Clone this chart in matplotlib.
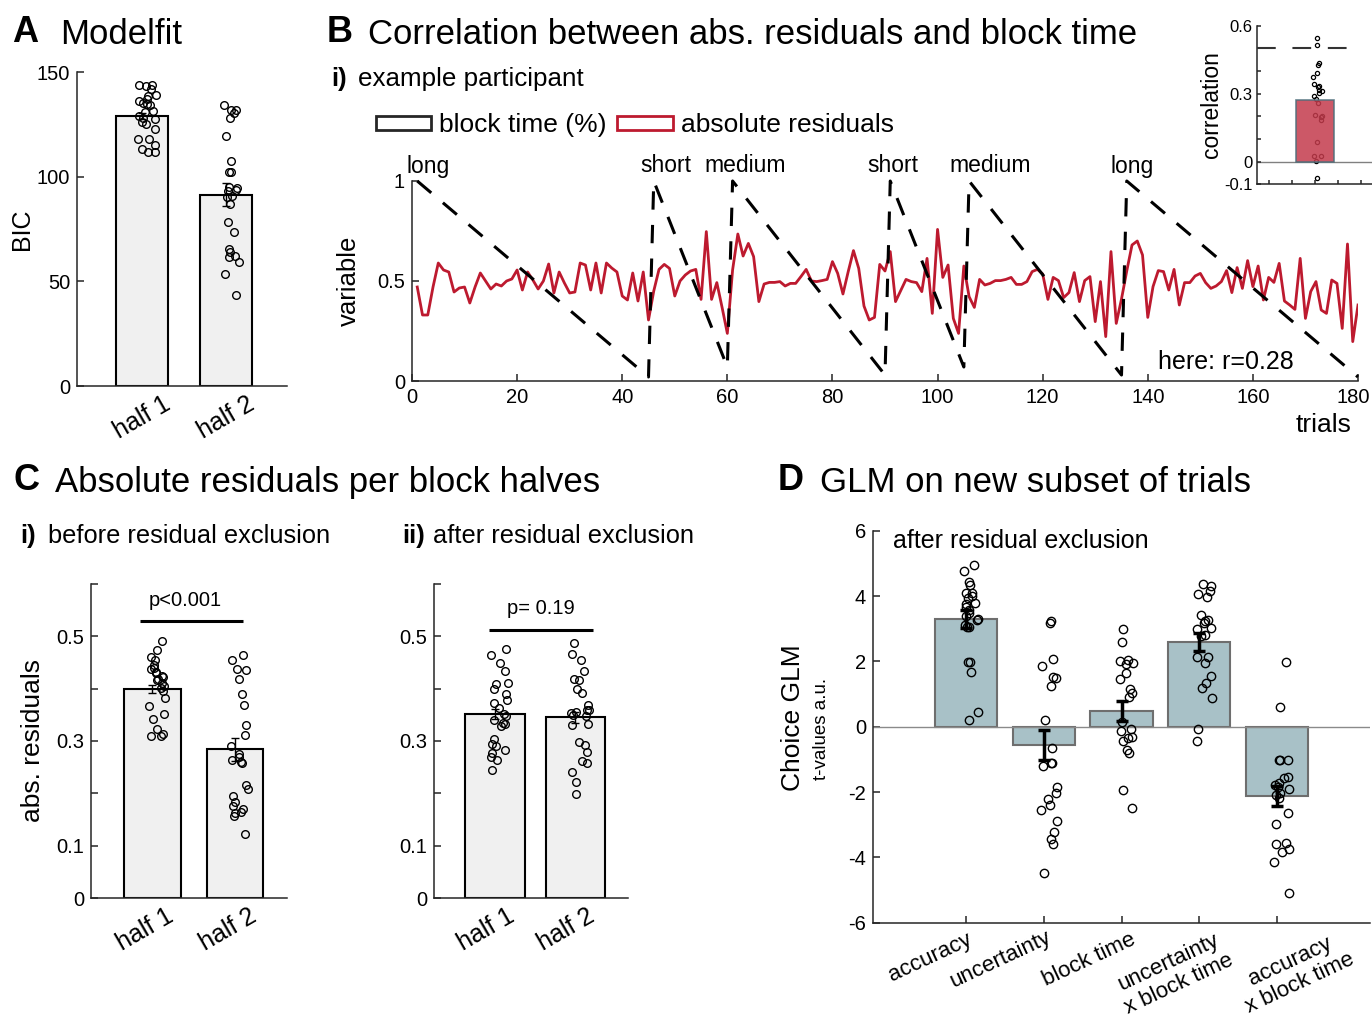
import numpy as np
import matplotlib
matplotlib.use("Agg")
import matplotlib.pyplot as plt
from matplotlib.patches import Patch
from matplotlib.transforms import ScaledTranslation, offset_copy

plt.rcParams['font.family'] = ['Liberation Sans', 'DejaVu Sans']
plt.rcParams['axes.unicode_minus'] = False

# ---- data ----
# A: BIC per block half
bic_mean = [129.1, 91.4]
bic_sem = [1.5, 5.5]
bic_half1 = [144, 144, 143.5, 142, 139, 138.5, 137, 136, 135, 134.5, 134, 131.5, 131,
             129, 128, 127.5, 126, 125, 123, 118, 118, 115, 113, 112, 112]
bic_half2 = [134, 132, 132, 130.5, 128, 119.5, 107.5, 102, 102, 95, 94.5, 93.5, 93,
             91, 90.5, 87, 78.5, 73.5, 65.5, 64, 62, 61.5, 59, 53.5, 43.5]

# B: example participant
abs_resid = [
    0.47, 0.33, 0.33, 0.47, 0.59, 0.555, 0.545, 0.445, 0.465, 0.47,
    0.39, 0.47, 0.54, 0.50, 0.46, 0.485, 0.475, 0.50, 0.51, 0.555,
    0.455, 0.545, 0.505, 0.46, 0.50, 0.585, 0.44, 0.545, 0.49, 0.44,
    0.445, 0.59, 0.58, 0.455, 0.59, 0.44, 0.59, 0.565, 0.545, 0.425,
    0.405, 0.54, 0.40, 0.545, 0.305, 0.45, 0.558, 0.583, 0.563, 0.425,
    0.50, 0.53, 0.55, 0.558, 0.408, 0.747, 0.408, 0.492, 0.368, 0.238,
    0.555, 0.735, 0.625, 0.688, 0.622, 0.397, 0.485, 0.493, 0.493, 0.497,
    0.475, 0.488, 0.488, 0.522, 0.558, 0.50, 0.497, 0.502, 0.508, 0.597,
    0.538, 0.435, 0.547, 0.652, 0.563, 0.375, 0.305, 0.318, 0.583, 0.55,
    0.647, 0.397, 0.452, 0.508, 0.497, 0.492, 0.447, 0.613, 0.338, 0.758,
    0.518, 0.58, 0.313, 0.238, 0.575, 0.422, 0.368, 0.508, 0.48, 0.488,
    0.502, 0.502, 0.508, 0.518, 0.483, 0.483, 0.497, 0.547, 0.558, 0.535,
    0.408, 0.518, 0.502, 0.417, 0.442, 0.542, 0.397, 0.502, 0.522, 0.297,
    0.497, 0.222, 0.647, 0.288, 0.41, 0.55, 0.68, 0.70, 0.63, 0.318,
    0.472, 0.552, 0.547, 0.455, 0.558, 0.38, 0.492, 0.492, 0.525, 0.538,
    0.492, 0.463, 0.475, 0.497, 0.552, 0.442, 0.567, 0.463, 0.602, 0.472,
    0.575, 0.405, 0.518, 0.493, 0.588, 0.40, 0.38, 0.358, 0.613, 0.313,
    0.447, 0.497, 0.355, 0.338, 0.505, 0.488, 0.263, 0.685, 0.197, 0.38]
trials = np.arange(1, len(abs_resid) + 1)
bt_trial = [1, 45, 46, 60, 61, 90, 91, 105, 106, 135, 136, 180]
bt_value = [1, 0.02, 1, 0.07, 1, 0.03, 1, 0.07, 1, 0.03, 1, 0.02]
block_names = ['long', 'short', 'medium', 'short', 'medium', 'long']
block_label_x = [-1.1, 43.4, 55.7, 86.7, 102.3, 133.0]

# B inset: correlation across participants
corr_mean = 0.27
corr_vals = [0.546, 0.516, 0.434, 0.427, 0.39, 0.375, 0.343, 0.334, 0.33, 0.316, 0.31,
             0.302, 0.29, 0.275, 0.258, 0.206, 0.2, 0.196, 0.184, 0.086, 0.025, 0.025,
             0.004, -0.072]

# C: abs. residuals per block halves
res_before_mean = [0.399, 0.284]
res_before_sem = [0.008, 0.022]
res_before_h1 = [0.491, 0.474, 0.46, 0.454, 0.446, 0.44, 0.437, 0.432, 0.43, 0.425, 0.423,
                 0.418, 0.416, 0.41, 0.405, 0.402, 0.395, 0.382, 0.366, 0.352, 0.342,
                 0.323, 0.314, 0.31, 0.309]
res_before_h2 = [0.465, 0.455, 0.437, 0.435, 0.418, 0.39, 0.368, 0.33, 0.312, 0.29, 0.276,
                 0.27, 0.263, 0.26, 0.258, 0.216, 0.208, 0.195, 0.184, 0.171, 0.175,
                 0.162, 0.165, 0.157, 0.122]
res_after_mean = [0.352, 0.345]
res_after_sem = [0.01, 0.01]
res_after_h1 = [0.475, 0.465, 0.45, 0.434, 0.411, 0.408, 0.4, 0.39, 0.379, 0.373, 0.363,
                0.352, 0.347, 0.341, 0.335, 0.332, 0.328, 0.304, 0.294, 0.29, 0.282,
                0.277, 0.269, 0.263, 0.244]
res_after_h2 = [0.487, 0.467, 0.454, 0.433, 0.416, 0.418, 0.4, 0.392, 0.368, 0.359, 0.356,
                0.354, 0.347, 0.333, 0.298, 0.292, 0.279, 0.262, 0.258, 0.241, 0.222,
                0.198, 0.35, 0.36, 0.33]

# D: GLM t-values
glm_names = ['accuracy', 'uncertainty', 'block time', 'uncertainty\nx block time',
             'accuracy\nx block time']
glm_mean = [3.29, -0.56, 0.48, 2.6, -2.12]
glm_sem = [0.27, 0.47, 0.30, 0.28, 0.32]
glm_points = [
    [4.95, 4.78, 4.44, 4.34, 4.1, 4.08, 4.0, 3.93, 3.8, 3.75, 3.67, 3.57, 3.47, 3.39,
     3.3, 3.27, 3.11, 3.05, 3.04, 1.99, 1.98, 1.68, 0.46, 0.2],
    [3.24, 3.18, 2.06, 1.86, 1.51, 1.5, 1.24, 0.2, -0.66, -1.1, -1.12, -1.2, -1.84,
     -2.02, -2.22, -2.4, -2.55, -2.88, -3.21, -3.45, -3.59, -4.47],
    [3.0, 2.6, 2.04, 2.0, 1.96, 1.92, 1.65, 1.45, 1.14, 1.02, 0.92, 0.13, -0.08, -0.14,
     -0.33, -0.35, -0.45, -0.71, -0.8, -1.94, -2.5],
    [4.37, 4.31, 4.16, 4.06, 3.98, 3.42, 3.27, 3.25, 3.16, 3.01, 3.0, 2.81, 2.78, 2.14,
     2.12, 1.94, 1.55, 1.35, 1.17, 0.87, -0.06, -0.45],
    [1.97, 0.61, -1.02, -1.02, -1.02, -1.53, -1.58, -1.73, -1.78, -1.84, -1.9, -2.04,
     -2.1, -2.19, -2.65, -2.98, -3.57, -3.6, -3.75, -3.83, -4.14, -5.1]]

# ---- styling ----
W, H = 1372, 1019
bar_gray = '#f0f0f0'
red = '#bd1a2f'
inset_red = '#c43b4c'
glm_color = '#a8c1c7'
rng = np.random.RandomState(7)

fig = plt.figure(figsize=(W / 100, H / 100), dpi=100)


def ax_at(left, top, right, bottom):
    return fig.add_axes([left / W, 1 - bottom / H, (right - left) / W, (bottom - top) / H])


def ftext(x, y, s, **kw):
    kw.setdefault('va', 'center')
    fig.text(x / W, 1 - y / H, s, **kw)


def shift(artist, dx, dy=0):
    artist.set_transform(artist.get_transform() +
                         ScaledTranslation(dx / 100, dy / 100, fig.dpi_scale_trans))


def style(ax, size=14.5):
    for s in ['top', 'right']:
        ax.spines[s].set_visible(False)
    for s in ['left', 'bottom']:
        ax.spines[s].set_linewidth(1.1)
        ax.spines[s].set_color('#262626')
    ax.tick_params(direction='in', length=5, width=1.1, labelsize=size,
                   color='#262626', pad=5)


def halves(ax, mean, sem, pts, width, label_dx=0):
    xb = np.array([1, 2])
    ax.bar(xb, mean, width=width, color=bar_gray, edgecolor='k', linewidth=1.5, zorder=1)
    ax.errorbar(xb, mean, yerr=sem, fmt='none', ecolor='k', elinewidth=1,
                capsize=3, zorder=2)
    for i, vals in enumerate(pts):
        jit = rng.uniform(-0.05, 0.17, len(vals))
        ax.plot(xb[i] + jit, vals, 'o', ms=5.5, mfc='none', mec='k', mew=1, zorder=3)
    ax.set_xticks(xb)
    ax.set_xticklabels(['half 1', 'half 2'], rotation=30, fontsize=18)
    ax.tick_params(axis='x', length=0, pad=4)
    for lab in ax.get_xticklabels():
        shift(lab, label_dx)


# ---- A ----
axA = ax_at(77, 72, 287, 386)
style(axA)
halves(axA, bic_mean, bic_sem, [bic_half1, bic_half2], 0.63)
axA.set_xlim(0.226, 2.726)
axA.set_ylim(0, 150)
axA.set_yticks([0, 50, 100, 150])
axA.set_ylabel('BIC', fontsize=18, labelpad=2)

# ---- B ----
axB = ax_at(412, 181, 1358, 381)
style(axB)
axB.plot(trials, abs_resid, color=red, lw=2, zorder=2)
axB.plot(bt_trial, bt_value, color='k', lw=2.2, dashes=(6, 5), zorder=3, clip_on=False)
axB.set_xlim(0, 180)
axB.set_ylim(0, 1)
axB.set_xticks(range(0, 181, 20))
axB.set_yticks([0, 0.5, 1])
axB.set_yticklabels(['0', '0.5', '1'])
shift(axB.get_xticklabels()[-1], -5)
axB.set_ylabel('variable', fontsize=18.5, labelpad=12)
for name, x in zip(block_names, block_label_x):
    axB.text(x, 1.075, name, fontsize=16.5, ha='left', va='center', clip_on=False)
axB.text(141.9, 0.095, 'here: r=0.28', fontsize=18, ha='left', va='center')
axB.text(178.8, -0.22, 'trials', fontsize=19, ha='right', va='center', clip_on=False)

handles = [Patch(facecolor='none', edgecolor='#262626', lw=2),
           Patch(facecolor='none', edgecolor=red, lw=2)]
fig.legend(handles, ['block time (%)', 'absolute residuals'], ncol=2, frameon=False,
           loc='center left', bbox_to_anchor=(376 / W, 1 - 125 / H), fontsize=19,
           handlelength=2.1, handleheight=0.45, handletextpad=0.3, columnspacing=0.4,
           borderpad=0, borderaxespad=0)

# inset
axI = ax_at(1257, 25.7, 1373, 184.3)
style(axI, size=12)
axI.axhline(0, color='#808080', lw=1, zorder=1)
jit = rng.uniform(-0.015, 0.06, len(corr_vals))
axI.plot(1 + jit, corr_vals, 'o', ms=3, mfc='none', mec='k', mew=0.9, zorder=2)
axI.bar(1, corr_mean, width=0.33, color=inset_red, alpha=0.85, edgecolor='#4e6e7b',
        lw=1.2, zorder=3)
axI.axhline(0.5, xmax=0.78, color='#333333', lw=1.5, dashes=(9, 8), zorder=4)
axI.set_xlim(0.5, 1.5)
axI.set_ylim(-0.1, 0.6)
axI.set_xticks([0.6, 0.8, 1.0, 1.2, 1.4])
axI.set_xticklabels([])
axI.set_yticks(np.round(np.arange(-0.1, 0.61, 0.1), 1))
axI.set_yticklabels(['-0.1', '0', '', '', '0.3', '', '', '0.6'])
axI.tick_params(length=3, pad=3)
axI.set_ylabel('correlation', fontsize=16.5, labelpad=1)

# ---- C ----
ctick = np.round(np.arange(0, 0.61, 0.1), 1)
clab = ['0', '0.1', '', '0.3', '', '0.5', '']

axC1 = ax_at(91, 584, 287, 898)
style(axC1)
halves(axC1, res_before_mean, res_before_sem, [res_before_h1, res_before_h2], 0.68, -7)
axC1.set_xlim(0.255, 2.63)
axC1.set_ylim(0, 0.6)
axC1.set_yticks(ctick)
axC1.set_yticklabels(clab)
axC1.set_ylabel('abs. residuals', fontsize=19, labelpad=8)
axC1.plot([0.85, 2.1], [0.529, 0.529], color='k', lw=2.2, solid_capstyle='butt')
axC1.text(1.4, 0.569, 'p<0.001', fontsize=14.5, ha='center', va='center')

axC2 = ax_at(434, 584, 628, 898)
style(axC2)
halves(axC2, res_after_mean, res_after_sem, [res_after_h1, res_after_h2], 0.74, -9)
axC2.set_xlim(0.242, 2.656)
axC2.set_ylim(0, 0.6)
axC2.set_yticks(ctick)
axC2.set_yticklabels(clab)
axC2.plot([0.93, 2.22], [0.512, 0.512], color='k', lw=2.2, solid_capstyle='butt')
axC2.text(1.57, 0.553, 'p= 0.19', fontsize=14.5, ha='center', va='center')

# ---- D ----
axD = ax_at(873, 530.7, 1370, 922.7)
style(axD)
xd = np.arange(1, len(glm_mean) + 1)
axD.bar(xd, glm_mean, width=0.8, color=glm_color, edgecolor='#6e6e6e', lw=1.5, zorder=1)
axD.axhline(0, color='#8a8a8a', lw=1, zorder=2)
axD.errorbar(xd, glm_mean, yerr=glm_sem, fmt='none', ecolor='k', elinewidth=2.5,
             capsize=4, capthick=2.5, zorder=3)
for i, vals in enumerate(glm_points):
    jit = rng.uniform(-0.04, 0.17, len(vals))
    axD.plot(xd[i] + jit, vals, 'o', ms=6, mfc='none', mec='k', mew=1, zorder=4)
axD.set_xlim(-0.2, 6.2)
axD.set_ylim(-6, 6)
axD.set_yticks(range(-6, 7, 2))
axD.set_xticks(xd)
axD.set_xticklabels([])
# rotated category labels, placed like the original (pixel offsets from each tick)
lab_dx = [-36, -43, -32, -25, 18]
lab_dy = [-35, -37, -37, -51, -50]
for x, name, dx, dy in zip(xd, glm_names, lab_dx, lab_dy):
    tr = offset_copy(axD.get_xaxis_transform(), fig=fig, x=dx, y=dy, units='dots')
    axD.text(x, 0, name, transform=tr, rotation=25, ha='center', va='center',
             fontsize=16, multialignment='center', clip_on=False)
axD.text(0.04, 0.975, 'after residual exclusion', transform=axD.transAxes,
         fontsize=18, ha='left', va='center')
ftext(793, 718, 'Choice GLM', fontsize=19, rotation=90, ha='center')
ftext(822, 729, 't-values a.u.', fontsize=13.5, rotation=90, ha='center')

# ---- panel titles ----
ftext(12, 33, 'A', fontsize=26, fontweight='bold')
ftext(60, 34, 'Modelfit', fontsize=25)
ftext(327, 33, 'B', fontsize=26, fontweight='bold')
ftext(368, 34, 'Correlation between abs. residuals and block time', fontsize=25)
ftext(331, 79, 'i)', fontsize=18.5, fontweight='bold')
ftext(358, 79, 'example participant', fontsize=18.7)
ftext(14, 480, 'C', fontsize=26, fontweight='bold')
ftext(55, 482, 'Absolute residuals per block halves', fontsize=25)
ftext(20, 536, 'i)', fontsize=18.5, fontweight='bold')
ftext(48, 536, 'before residual exclusion', fontsize=18.3)
ftext(402, 536, 'ii)', fontsize=18.5, fontweight='bold')
ftext(433, 536, 'after residual exclusion', fontsize=18.3)
ftext(778, 480, 'D', fontsize=26, fontweight='bold')
ftext(820, 482, 'GLM on new subset of trials', fontsize=25)

fig.savefig('out.png', dpi=100)
